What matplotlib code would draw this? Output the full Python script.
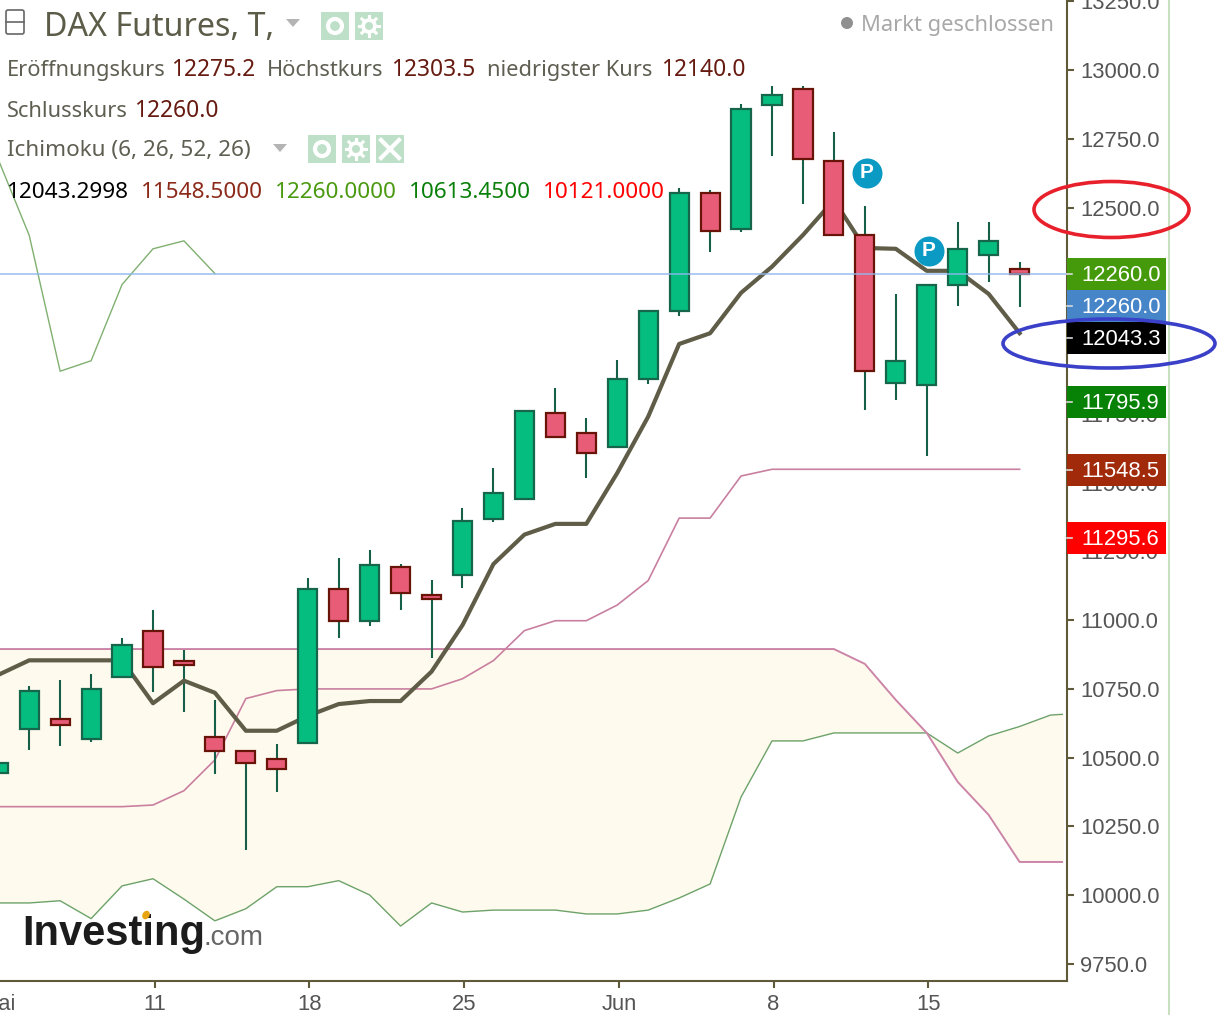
import matplotlib
matplotlib.use("Agg")
import matplotlib.pyplot as plt
import numpy as np
from matplotlib.patches import Ellipse, Rectangle, Circle, FancyBboxPatch, Polygon
from matplotlib.lines import Line2D
from matplotlib.transforms import Affine2D

# ---- data (price units) ----
first_index = -5
opens  = [10444,10604,10642,10567,10792,10962,10853,10576,10525,10496,10552,11114,10996,11194,11093,11163,11367,11439,11754,11681,11628,11876,12123,12554,12421,12872,12932,12670,12401,11861,11854,12217,12326,12275.2]
highs  = [10490,10761,10782,10804,10935,11037,10892,10710,10525,10550,11153,11226,11255,11204,11146,11408,11553,11761,11844,11735,11946,12124,12571,12564,12876,12942,12942,12775,12506,12186,12220,12447,12447,12303.5]
lows   = [10430,10528,10544,10557,10792,10740,10666,10441,10165,10375,10552,10936,10980,11037,10862,11117,11357,11439,11665,11517,11628,11858,12106,12338,12411,12687,12513,12399,11764,11800,11597,12142,12229,12140]
closes = [10481,10744,10618,10751,10911,10829,10836,10523,10480,10458,11114,10996,11202,11098,11076,11362,11463,11761,11665,11607,11878,12124,12554,12414,12859,12910,12675,12399,11905,11943,12220,12350,12379,12260]

tenkan = [10801,10854,10854,10854,10854,10698,10780,10736,10598,10598,10652,10695,10706,10706,10813,10982,11204,11311,11350,11350,11535,11740,12004,12043,12190,12285,12400,12527,12353,12350,12270,12270,12186,12043.3]
kijun  = [10322,10322,10322,10322,10322,10328,10380,10492,10715,10744,10750,10750,10750,10750,10750,10787,10853,10962,10998,10998,11055,11144,11371,11371,11524,11548.5,11548.5,11548.5,11548.5,11548.5,11548.5,11548.5,11548.5,11548.5]
chikou = [12675,12399,11905,11943,12220,12350,12379,12260]
span_a = [9972,9972,9980,9915,10034,10060,9986,9907,9951,10031,10031,10053,10001,9888,9972,9939,9946,9946,9946,9932,9932,9946,9990,10041,10357,10561,10561,10590,10590,10590,10590,10517,10579,10613.45,10655,10662]
span_b = [10895]*28 + [10841,10710,10590,10412,10292,10121,10121,10121]

pivot_index = [23.07, 25.07]
pivot_value = [12627, 12343]
last_price = 12260
y_ticks = [13250,13000,12750,12500,12250,12000,11750,11500,11250,11000,10750,10500,10250,10000,9750]
x_tick_index = [-5,0,5,10,15,20,25]
x_tick_labels = ["Mai","11","18","25","Jun","8","15"]
price_tags = [("12260.0","#459a0b",273.6),("12260.0","#4585c8",306),("12043.3","#000000",338),
              ("11795.9","#078207",402),("11548.5","#a02a0a",470),("11295.6","#ff0000",538)]

W, H = 1223, 1015
fig = plt.figure(figsize=(W/100, H/100), dpi=100, facecolor="white")
ax = fig.add_axes([0, 1-981/H, 1067/W, 981/H])
ax.set_xlim(-153/30.95, (1067-153)/30.95)
ax.set_ylim(13000-911*3.6353, 13000+70*3.6353)
idx = np.arange(first_index, first_index+len(opens))
idx_span = np.arange(first_index, first_index+len(span_a))

# cloud
clip = Rectangle((-6, 9000), 6+(1063-153)/30.95, 5000, transform=ax.transData)
cloud = ax.fill_between(idx_span, span_a, span_b, color="#fffaee", lw=0, zorder=1)
cloud.set_clip_path(clip)
l1, = ax.plot(idx_span, span_a, color="#6da36a", lw=1.0, zorder=1.5)
l2, = ax.plot(idx_span, span_b, color="#cc85a8", lw=1.4, zorder=1.5)
l1.set_clip_path(clip); l2.set_clip_path(clip)

ax.plot(idx, kijun, color="#c980a0", lw=1.2, zorder=1.6)
ax.plot(idx[:len(chikou)], chikou, color="#80b070", lw=1.0, zorder=1.6)

# candles
is_up = np.array(closes) >= np.array(opens)
ax.vlines(idx, lows, highs, color="#16604a", lw=1.5, zorder=2)
ax.plot(idx, tenkan, color="#5f5c48", lw=3.0, zorder=3, solid_joinstyle="round")
o = np.array(opens); c = np.array(closes)
ax.bar(idx[is_up], (c-o)[is_up], bottom=o[is_up], width=0.62, color="#06bd80", edgecolor="#16664c", lw=1.6, zorder=4)
ax.bar(idx[~is_up], (o-c)[~is_up], bottom=c[~is_up], width=0.62, color="#e95c78", edgecolor="#681408", lw=1.6, zorder=4)
ax.axhline(last_price, color="#8fb8ee", lw=1.2, alpha=0.85, zorder=5)

# pivots
ax.scatter(pivot_index, pivot_value, s=466, color="#0a9ac4", lw=0, zorder=6)
for xp, yp in zip(pivot_index, pivot_value):
    ax.text(xp, yp, "P", color="white", fontsize=15, fontweight="bold", family="Liberation Sans",
            ha="center", va="center", zorder=7)

# axes
for s in ("top", "left"):
    ax.spines[s].set_visible(False)
for s in ("right", "bottom"):
    ax.spines[s].set_color("#5f5a3a"); ax.spines[s].set_linewidth(1.5)
ax.yaxis.tick_right()
ax.set_yticks(y_ticks)
ax.set_yticklabels([f"{v:.1f}" for v in y_ticks], family="Liberation Sans", fontsize=15.8, color="#555555")
ax.tick_params(axis="y", length=5, width=1.5, color="#5f5a3a", pad=4.3)
ax.set_xticks(np.array(x_tick_index[1:]) + 0.05)
ax.set_xticklabels(x_tick_labels[1:], family="Liberation Sans", fontsize=15.8, color="#555555")
ax.tick_params(axis="x", length=5, width=1.5, color="#5f5a3a", pad=4)
ax.text(x_tick_index[0], 9688.2-85, x_tick_labels[0], family="Liberation Sans", fontsize=15.8,
        color="#555555", ha="center", va="center", clip_on=False)

# pixel overlay
T = Affine2D().scale(1/W, -1/H).translate(0, 1) + fig.transFigure
def txt(x, y, s, color, size=15.7, family="Noto Sans", ha="left", va="baseline", **kw):
    return fig.text(x, y, s, color=color, fontsize=size, family=family, ha=ha, va=va, transform=T, zorder=10, **kw)
def patch(p):
    p.set_transform(T); p.set_zorder(9); fig.add_artist(p); return p
def line(xs, ys, color, lw):
    l = Line2D(xs, ys, color=color, lw=lw, transform=T, zorder=10); fig.add_artist(l); return l

GR = "#5e5e52"; DR = "#661a10"; VS = 16.4
# light vertical line
line([1169, 1169], [0, H], "#c8e0c0", 1.5)

# price tags
for label, col, yc in price_tags:
    patch(Rectangle((1067, yc-16), 99, 32, facecolor=col, lw=0))
    line([1067, 1072], [yc, yc], "#d8d8d8", 1.2)
    txt(1081, yc+1.5, label, "white", size=15.8, family="Liberation Sans", va="center")

# annotation ellipses
patch(Ellipse((1111.5, 209.5), 155, 56, fill=False, edgecolor="#e8202c", lw=2.6)).set_zorder(11)
patch(Ellipse((1109, 343.5), 212, 49, fill=False, edgecolor="#3a40c8", lw=2.6)).set_zorder(11)

# header texts
patch(FancyBboxPatch((6, 10), 18, 24, boxstyle="round,pad=0,rounding_size=2", fill=False, edgecolor="#666666", lw=1.2))
line([6, 24], [22, 22], "#666666", 1.2)
txt(44, 36, "DAX Futures, T,", "#5c5c48", size=23.2)
patch(Polygon([[286, 19], [300, 19], [293, 27]], facecolor="#b4b4b4", lw=0))
patch(Polygon([[273, 144], [287, 144], [280, 152]], facecolor="#b4b4b4", lw=0))
txt(7, 76, "Eröffnungskurs", GR); txt(171, 76, "12275.2", DR, size=VS)
txt(267, 76, "Höchstkurs", GR); txt(391, 76, "12303.5", DR, size=VS)
txt(487, 76, "niedrigster Kurs", GR); txt(661, 76, "12140.0", DR, size=VS)
txt(7, 117, "Schlusskurs", GR); txt(134, 117, "12260.0", DR, size=VS)
txt(7, 156, "Ichimoku (6, 26, 52, 26)", GR, size=16.2)
for x, s, col in [(7,"12043.2998","#000000"),(141,"11548.5000","#8c2a1a"),(275,"12260.0000","#4a9a10"),
                  (409,"10613.4500","#0a800a"),(543,"10121.0000","#ff0000")]:
    txt(x, 198, s, col, size=16.2)
patch(Circle((847, 23), 6, facecolor="#909090", lw=0))
txt(861, 31, "Markt geschlossen", "#a8a8a8", size=15.8)

# icon boxes
for x0, y0, kind in [(321,12,"eye"),(355,12,"gear"),(308,135,"eye"),(342,135,"gear"),(376,135,"x")]:
    patch(Rectangle((x0, y0), 28, 28, facecolor="#bfe0c8", lw=0))
    cx, cy = x0+14, y0+14
    if kind == "eye":
        patch(Circle((cx, cy), 7, fill=False, edgecolor="white", lw=3))
    elif kind == "gear":
        patch(Circle((cx, cy), 5.5, fill=False, edgecolor="white", lw=3.2))
        for a in np.arange(0, np.pi, np.pi/4):
            line([cx-10*np.cos(a), cx+10*np.cos(a)], [cy-10*np.sin(a), cy+10*np.sin(a)], "white", 2.2)
        patch(Circle((cx, cy), 4, facecolor="#bfe0c8", lw=0)).set_zorder(11)
    else:
        line([cx-9, cx+9], [cy-9, cy+9], "white", 3)
        line([cx-9, cx+9], [cy+9, cy-9], "white", 3)

# logo
txt(22, 945, "Investing", "#1c1c1c", size=30, family="Liberation Sans", fontweight="bold")
txt(204, 945, ".com", "#666666", size=20, family="Liberation Sans")
patch(Ellipse((146, 915), 7, 9, angle=30, facecolor="#e8a410", lw=0)).set_zorder(11)

fig.savefig("out.png", dpi=100, facecolor="white")
